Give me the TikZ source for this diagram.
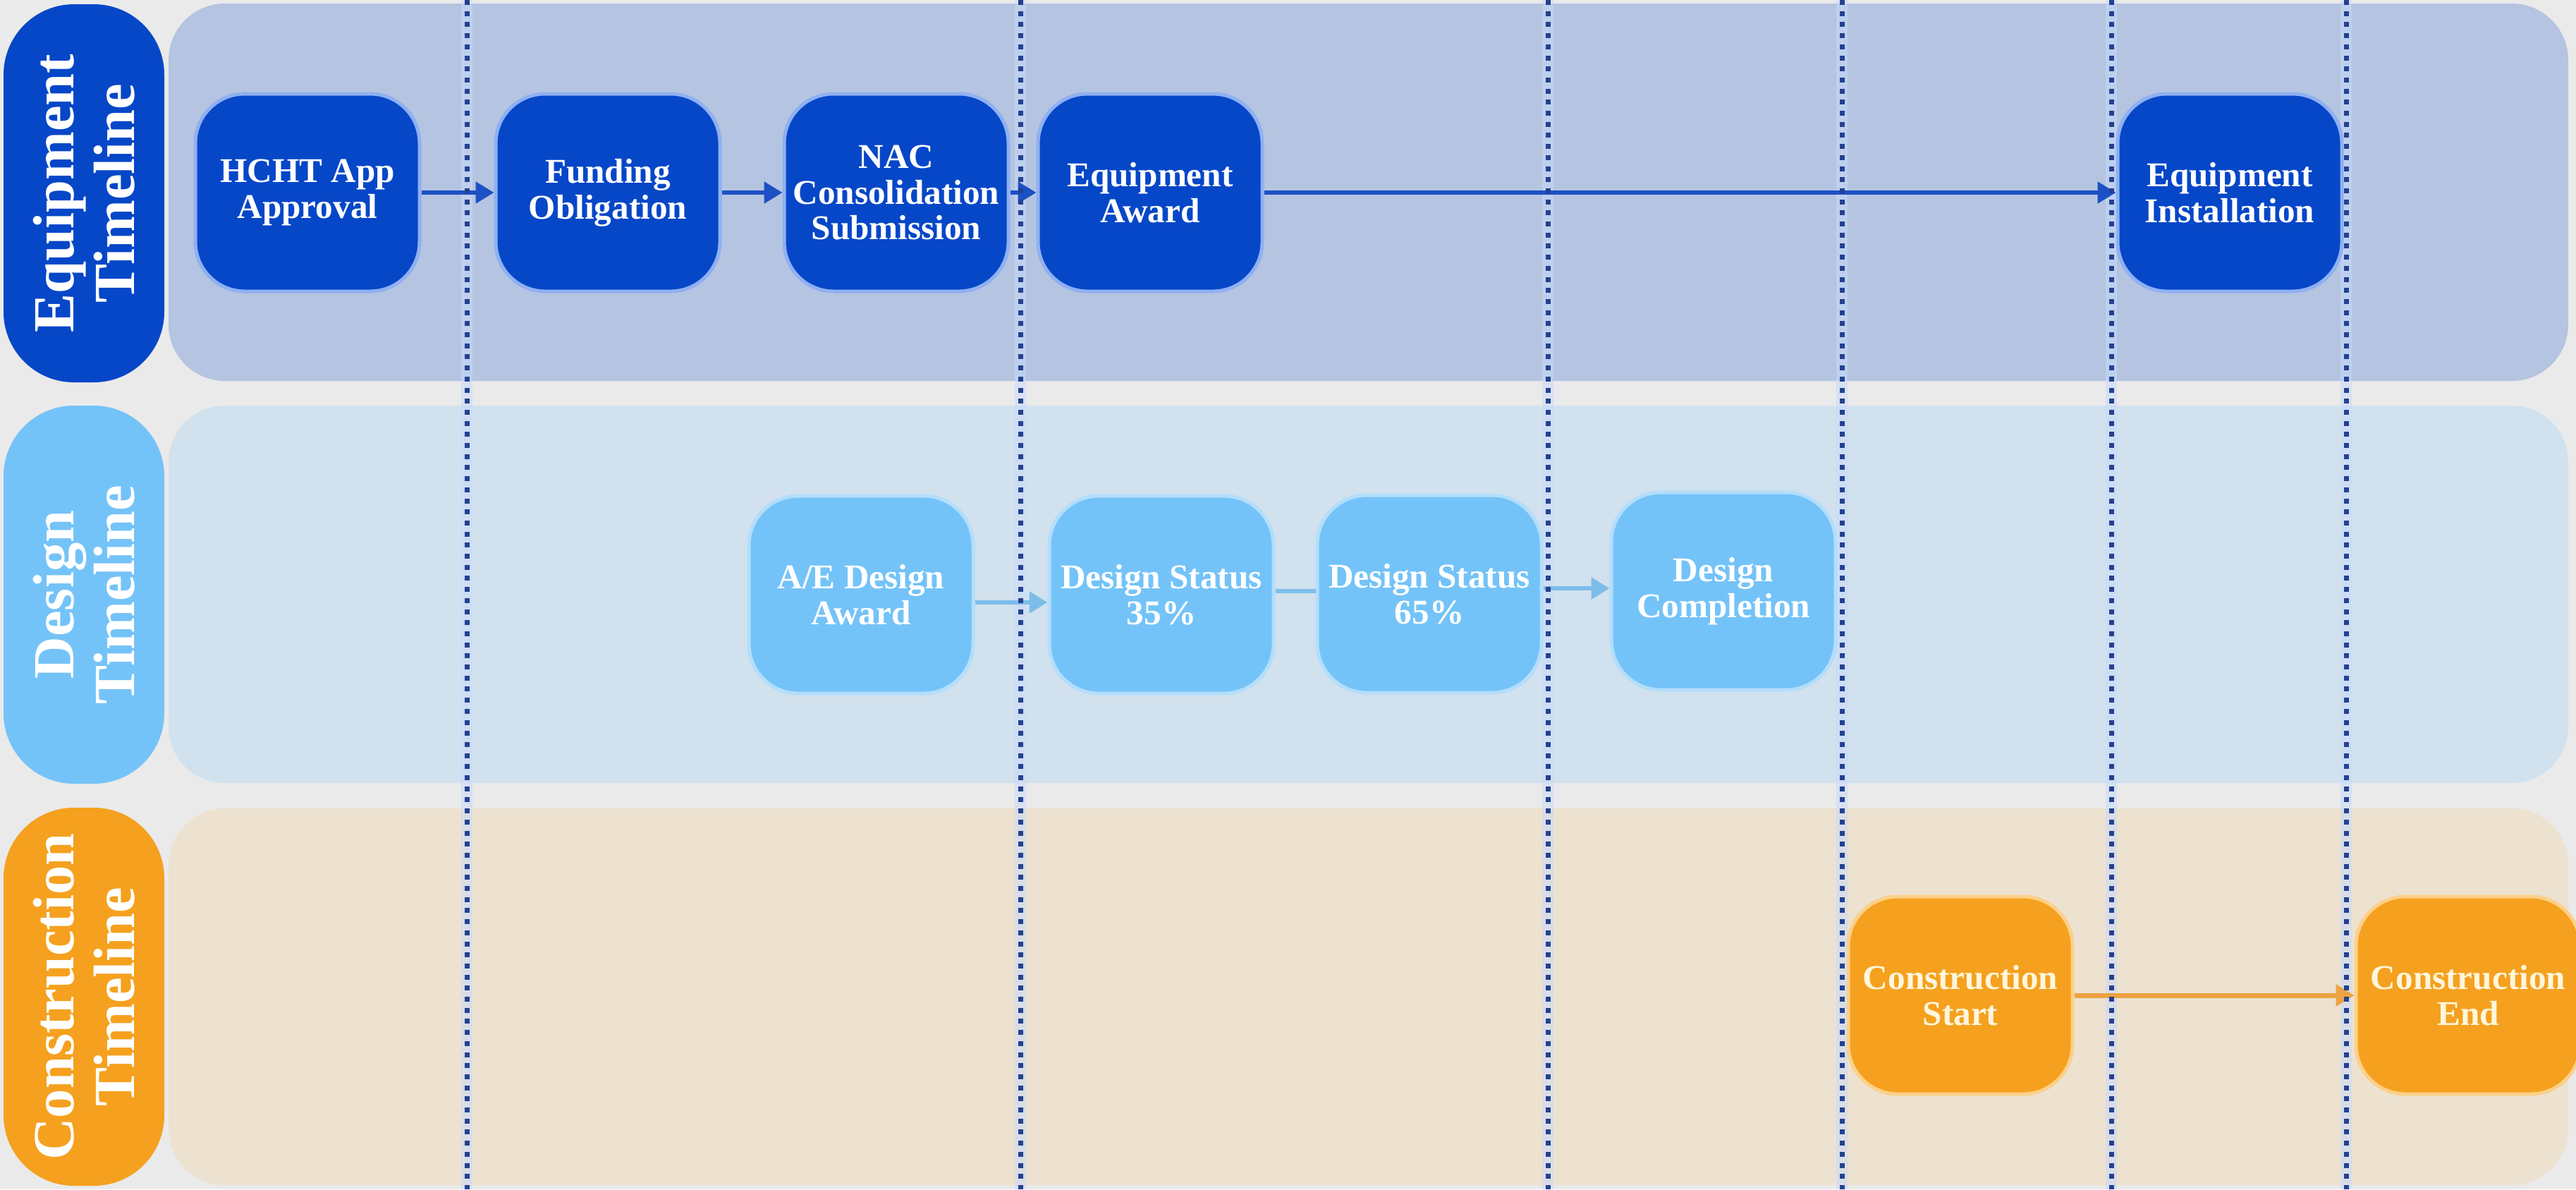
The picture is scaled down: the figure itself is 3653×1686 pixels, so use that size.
\documentclass[tikz,border=0pt]{standalone}
\usepackage{fontspec}
\setmainfont{Liberation Serif}
\usetikzlibrary{arrows.meta}
\definecolor{bg}{HTML}{EAEAEA}
\definecolor{eqband}{HTML}{B4C4E1}
\definecolor{eqnode}{HTML}{0647C8}
\definecolor{eqedge}{HTML}{8FB0F2}
\definecolor{eqarrow}{HTML}{1D50C4}
\definecolor{dsband}{HTML}{D1E1EE}
\definecolor{dsnode}{HTML}{74C3F8}
\definecolor{dsedge}{HTML}{B3DEFB}
\definecolor{dsarrow}{HTML}{7DBDEA}
\definecolor{coband}{HTML}{EDE2D0}
\definecolor{conode}{HTML}{F5A11F}
\definecolor{coedge}{HTML}{FCD08A}
\definecolor{coarrow}{HTML}{EDA243}
\definecolor{cotext}{HTML}{FFF6DC}
\definecolor{dotline}{HTML}{24418F}
\definecolor{dothalo}{HTML}{C8DAFB}
\begin{document}
\begin{tikzpicture}[x=0.1mm,y=-0.1mm,
  laneband/.style={rounded corners=8mm},
  lanelabel/.style={rotate=90, rounded corners=10mm, minimum width=53.6mm, minimum height=22.8mm,
    align=center, inner sep=0pt, text=white, font=\fontsize{23.5}{24.5}\selectfont\bfseries},
  evnode/.style={rounded corners=7mm, minimum width=31.8mm, minimum height=28mm, align=center,
    inner sep=1mm, line width=0.5mm, font=\fontsize{14}{14.5}\selectfont\bfseries},
  eqn/.style={evnode, fill=eqnode, draw=eqedge, text=white},
  dsn/.style={evnode, fill=dsnode, draw=dsedge, text=white},
  con/.style={evnode, fill=conode, draw=coedge, text=cotext},
  eqarr/.style={draw=eqarrow, line width=0.55mm, -{Triangle[length=2.6mm,width=3mm]}},
  dsarr/.style={draw=dsarrow, line width=0.6mm, -{Triangle[length=2.6mm,width=3mm]}},
  dsline/.style={draw=dsarrow, line width=0.6mm},
  coarr/.style={draw=coarrow, line width=0.7mm, -{Triangle[length=2.6mm,width=3mm]}},
  halo/.style={draw=dothalo, line width=1.6mm, draw opacity=0.55},
  dotted line/.style={draw=dotline, line width=0.7mm, dash pattern=on 0.7mm off 0.87mm}
]
\useasboundingbox (0,0) rectangle (3653,1686);
\fill[bg] (0,0) rectangle (3653,1686);

% lane bands
\fill[eqband, laneband] (239,5) rectangle (3642,540);
\fill[dsband, laneband] (239,575) rectangle (3642,1110);
\fill[coband, laneband] (239,1146) rectangle (3642,1680);

% lane labels
\node[lanelabel, fill=eqnode] (eqlab) at (119,274) {Equipment\\Timeline};
\node[lanelabel, fill=dsnode] (dslab) at (119,843) {Design\\Timeline};
\node[lanelabel, fill=conode] (colab) at (119,1413) {Construction\\Timeline};

% light halo of the period separators
\foreach \xx in {662,1447,2195,2612,2994,3327} {
  \draw[halo] (\xx,0) -- (\xx,1686);
}

% events
\node[eqn] (hcht) at (436,273) {HCHT App\\Approval};
\node[eqn] (fund) at (862,273) {Funding\\Obligation};
\node[eqn] (nac) at (1271,273) {NAC\\Consolidation\\Submission};
\node[eqn] (eqaw) at (1631,273) {Equipment\\Award};
\node[eqn] (eqin) at (3162,273) {Equipment\\Installation};

\node[dsn] (ae) at (1221,843) {A/E Design\\Award};
\node[dsn] (s35) at (1647,843) {Design Status\\35\%};
\node[dsn] (s65) at (2027,842) {Design Status\\65\%};
\node[dsn] (dc) at (2444,838) {Design\\Completion};

\node[con] (cs) at (2780,1411) {Construction\\Start};
\node[con] (ce) at (3500,1411) {Construction\\End};

% connectors
\draw[eqarr] (hcht) -- (fund);
\draw[eqarr] (fund) -- (nac);
\draw[eqarr] (nac) -- (eqaw);
\draw[eqarr] (eqaw) -- (eqin);
\draw[dsarr] ([yshift=-1.1mm]ae.east) -- ([yshift=-1.1mm]ae.east -| s35.west);
\draw[dsline] ([yshift=0.5mm]s35.east) -- ([yshift=0.5mm]s35.east -| s65.west);
\draw[dsarr] ([yshift=0.8mm]s65.east) -- ([yshift=0.8mm]s65.east -| dc.west);
\draw[coarr] (cs) -- (ce);

% period separators (dots)
\foreach \xx in {662,1447,2195,2612,2994,3327} {
  \draw[dotted line] (\xx,0) -- (\xx,1686);
}
\end{tikzpicture}
\end{document}
